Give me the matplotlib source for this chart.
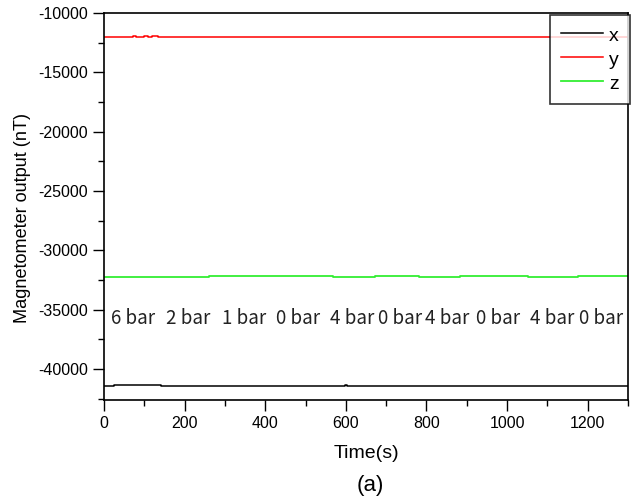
import matplotlib.pyplot as plt
from matplotlib.ticker import MultipleLocator

# step breakpoints
tx = [0, 25, 141, 598, 602, 1300]
bx = [-41450, -41370, -41450, -41350, -41450, -41450]

ty = [0, 72, 80, 92, 100, 110, 120, 134, 1300]
by = [-12050, -11970, -12050, -11990, -11960, -12000, -11970, -12050, -12050]

tz = [0, 260, 568, 672, 781, 883, 1052, 1176, 1300]
bz = [-32260, -32180, -32260, -32180, -32260, -32180, -32260, -32180, -32180]

labels = ['6 bar', '2 bar', '1 bar', '0 bar', '4 bar', '0 bar', '4 bar', '0 bar', '4 bar', '0 bar']
label_t = [72, 209, 347, 481, 615, 734, 851, 977, 1111, 1233]
label_v = -35700

plt.rcParams['font.family'] = ['Liberation Sans', 'DejaVu Sans']
plt.rcParams['axes.unicode_minus'] = False
fig = plt.figure(figsize=(6.35, 5.01), dpi=100)
ax = fig.add_axes([104/635, 1-400/501, 524/635, 387/501])

ax.step(tx, bx, where='post', color='black', lw=1.1, label='x')
ax.step(ty, by, where='post', color='red', lw=1.1, label='y')
ax.step(tz, bz, where='post', color='#33ee33', lw=1.3, label='z')

for s, t in zip(labels, label_t):
    ax.text(t, label_v, s, ha='center', va='center', fontsize=13.5,
            family=['Noto Sans CJK KR', 'DejaVu Sans'], color='#222222')

ax.set_xlim(0, 1300)
ax.set_ylim(-42600, -10000)
ax.xaxis.set_major_locator(MultipleLocator(200))
ax.xaxis.set_minor_locator(MultipleLocator(100))
ax.yaxis.set_major_locator(MultipleLocator(5000))
ax.yaxis.set_minor_locator(MultipleLocator(2500))
ax.tick_params(which='major', direction='out', length=8, width=1, labelsize=11.5)
ax.tick_params(which='minor', direction='out', length=4, width=1)
ax.tick_params(top=False, right=False)
for sp in ax.spines.values():
    sp.set_linewidth(1.2)

ax.set_xlabel('Time(s)', fontsize=14, labelpad=10)
ax.set_ylabel('Magnetometer output (nT)', fontsize=13.1)
ax.yaxis.set_label_coords(-0.14, 0.47)
fig.text(370/635, 1-486/501, '(a)', ha='center', va='center', fontsize=16)

leg = ax.legend(loc='upper right', bbox_to_anchor=(1.003, 0.995), fontsize=14,
                frameon=True, fancybox=False, edgecolor='black', handlelength=2.2,
                handleheight=1.0, borderaxespad=0, handletextpad=0.3,
                labelspacing=0.24, borderpad=0.55)
leg.get_frame().set_linewidth(1.2)

fig.savefig('out.png', dpi=100)
